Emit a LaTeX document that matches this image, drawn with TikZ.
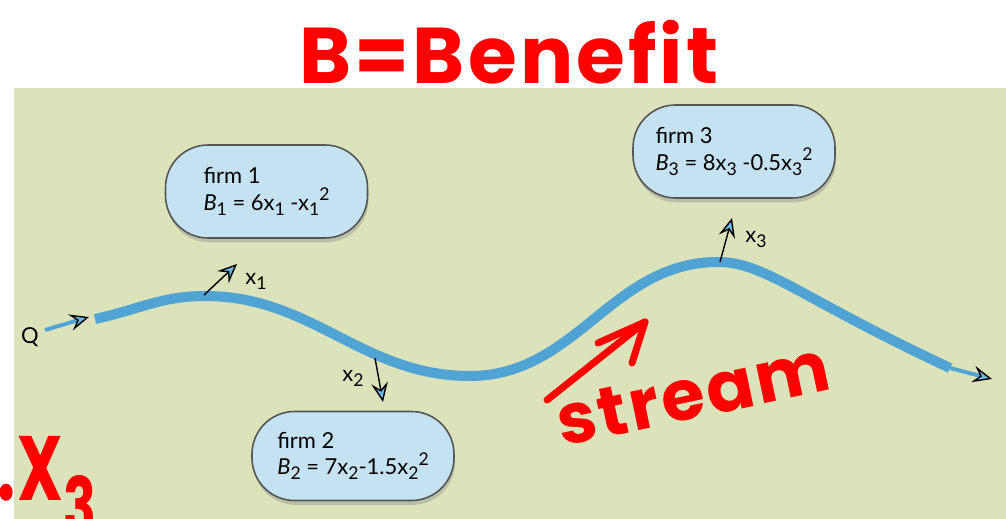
\documentclass[tikz,border=0pt]{standalone}
\usepackage{fontspec}
\setmainfont{Lato}
\newfontfamily\handfont{Poppins}[LetterSpace=4]
\usetikzlibrary{arrows.meta,shadows}
\definecolor{meadow}{RGB}{220,226,186}
\definecolor{boxblue}{RGB}{197,226,243}
\definecolor{riverblue}{RGB}{80,163,210}
\definecolor{tipblue}{RGB}{105,185,228}
\definecolor{edgegray}{RGB}{85,85,85}
\definecolor{markerred}{RGB}{255,0,0}
\newcommand{\subsc}[1]{\raisebox{-0.45ex}{\fontsize{10}{10}\selectfont#1}}
\newcommand{\supsc}[1]{\raisebox{0.85ex}{\fontsize{10}{10}\selectfont#1}}

\begin{document}
\begin{tikzpicture}[x=0.02cm,y=-0.02cm,
  every node/.style={font=\fontsize{12.5}{15}\selectfont},
  firm/.style={draw=edgegray,line width=0.9pt,fill=boxblue,rounded corners=0.85cm,
    minimum width=4.04cm,minimum height=1.86cm,align=left,
    drop shadow={shadow xshift=0.6pt,shadow yshift=-2.5pt,opacity=0.35}},
  tip/.style={-{Stealth[length=11pt,width=9.5pt,inset=4pt,line width=0.8pt,color=black,fill=tipblue]}},
  take/.style={tip,line width=0.8pt},
  stream/.style={riverblue,line width=5.7pt},
  feed/.style={riverblue,line width=2.2pt},
  ink/.style={markerred,line width=4pt,line cap=round,line join=round},
  hand/.style={text=markerred,font=\handfont\bfseries\fontsize{40}{40}\selectfont}]
\useasboundingbox (0,0) rectangle (1006,519);
\fill[meadow] (14,88) rectangle (1006,519);

% the three firms
\node[firm] (f1) at (266.5,191.5)
 {firm 1\\ \textit{B}\subsc{1} = 6x\subsc{1} -x\subsc{1}\supsc{2}};
\node[firm] (f3) at (734,151.5)
 {firm 3\\ \textit{B}\subsc{3} = 8x\subsc{3} -0.5x\subsc{3}\supsc{2}};
\node[firm,minimum height=1.78cm] (f2) at (353,456)
 {firm 2\\ \textit{B}\subsc{2} = 7x\subsc{2}-1.5x\subsc{2}\supsc{2}};

% the river
\coordinate (start) at (95,319);
\coordinate (peakA) at (205,296);
\coordinate (dip) at (470,376);
\coordinate (peakB) at (718,262);
\coordinate (finish) at (950,368);
\coordinate (inlet) at (45,330);
\coordinate (inflow) at (89,317);
\coordinate (outlet) at (992,379);
\draw[stream] (start) to[out=12,in=180] (peakA) to[out=0,in=180] (dip)
 to[out=0,in=180] (peakB) .. controls (765,262) and (800,298) .. (finish);
\draw[feed,tip] (inlet) -- (inflow);
\draw[feed,tip] (finish) -- (outlet);
\node (q) at (30,337) {Q};

% withdrawals
\foreach \n/\ax/\ay/\bx/\by/\lx/\ly in {1/204/295/237/264/256/281,
  2/375/358/383/402/353/378, 3/720/262/732/218/756/240}{
 \coordinate (w\n) at (\ax,\ay);
 \coordinate (t\n) at (\bx,\by);
 \draw[take] (w\n) -- (t\n);
 \node (x\n) at (\lx,\ly) {x\subsc{\n}};}

% handwriting
\node[hand,anchor=base,font=\handfont\bfseries\fontsize{45}{45}\selectfont] (title) at (509,84) {B=Benefit};
\node[hand,rotate=12,anchor=base] (word) at (698,418) {stream};
\node[hand,anchor=base west,font=\handfont\bfseries\fontsize{52}{52}\selectfont] (xthree) at (-9,500)
 {\scalebox{0.7}[1]{.X\raisebox{-19pt}{\scalebox{0.85}{3}}}};
\coordinate (tail) at (547,400);
\coordinate (head) at (645,322);
\coordinate (barbL) at (598,343);
\coordinate (barbR) at (632,363);
\draw[ink] (tail) -- (head);
\draw[ink] (barbL) -- (head) -- (barbR);
\end{tikzpicture}
\end{document}
